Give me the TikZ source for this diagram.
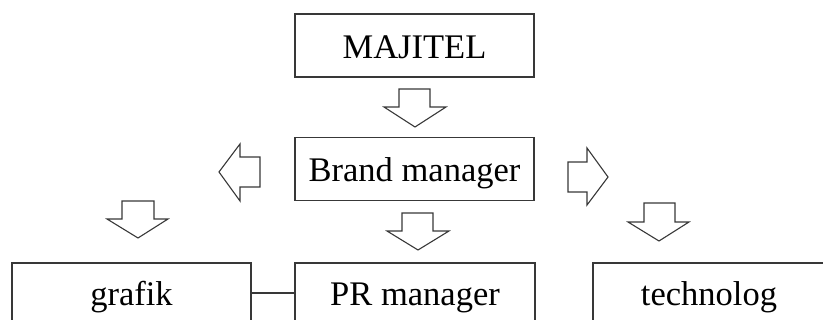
\documentclass[tikz,border=0pt]{standalone}
\usepackage{fontspec}
\setmainfont{Liberation Serif}
\begin{document}
\begin{tikzpicture}[x=1pt,y=-1pt,
  line/.style={draw=black!78,line width=1.3pt},
  box/.style={line,rectangle,inner sep=0pt,minimum width=239pt,
    font=\fontsize{34.5}{40}\selectfont},
  topbox/.style={box,minimum height=63pt,text height=26pt,text depth=0pt},
  lowbox/.style={box,minimum height=60pt,text height=27pt,text depth=2pt},
  blk/.style={line,line width=1.1pt,line join=miter}]
\useasboundingbox (0,0) rectangle (823,320);
\clip (0,0) rectangle (823,320);
\node[topbox] (maj) at (414.5,45.5) {MAJITEL};
\node[topbox] (brand) at (414.5,169) {Brand manager};
\node[lowbox] (grafik) at (131.5,293) {grafik};
\node[lowbox,minimum width=240pt] (pr) at (415,293) {PR manager};
\node[lowbox,minimum width=240pt] (tech) at (713,293) {\hspace*{-8pt}technolog};
\draw[line] (grafik.east) -- (pr.west);
% block arrows
\draw[blk] (399,89) -- (430,89) -- (430,107) -- (446,107) -- (415,127) -- (384,107) -- (399,107) -- cycle;
\draw[blk] (260,157) -- (260,187) -- (240,187) -- (240,201) -- (219,172) -- (240,144) -- (240,157) -- cycle;
\draw[blk] (568,162) -- (587,162) -- (587,148) -- (608,177) -- (587,205) -- (587,192) -- (568,192) -- cycle;
\draw[blk] (122,201) -- (154,201) -- (154,219) -- (168,219) -- (138,238) -- (107,219) -- (122,219) -- cycle;
\draw[blk] (402,213) -- (433,213) -- (433,231) -- (449,231) -- (418,250) -- (387,231) -- (402,231) -- cycle;
\draw[blk] (644,203) -- (675,203) -- (675,222) -- (689,222) -- (659,241) -- (628,222) -- (644,222) -- cycle;
\end{tikzpicture}
\end{document}
